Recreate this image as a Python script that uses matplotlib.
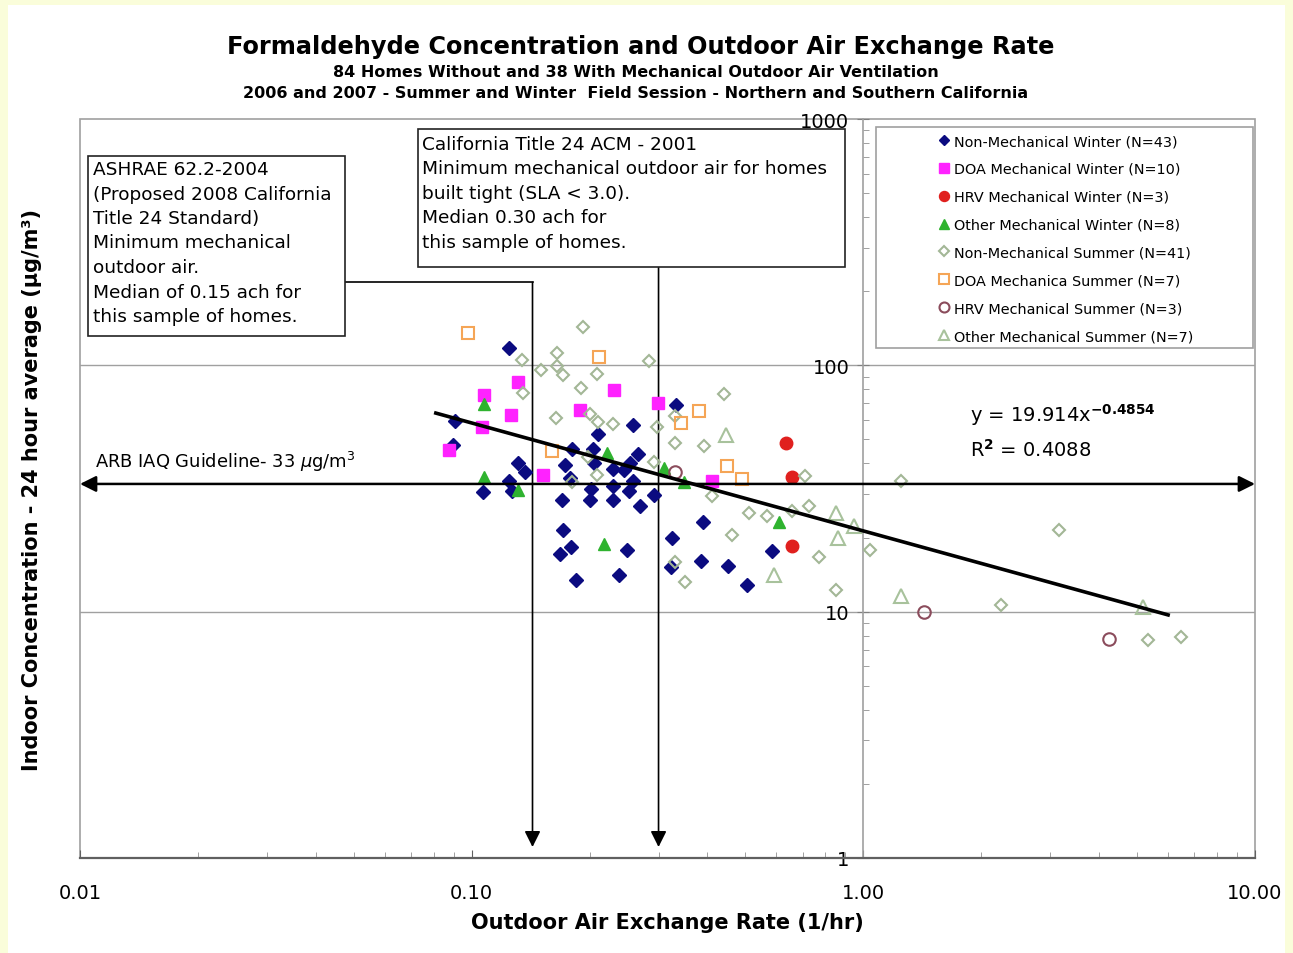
import matplotlib
matplotlib.use("Agg")
import matplotlib.pyplot as plt
from matplotlib.patches import Rectangle

# --- data (x = air exchange rate 1/hr, y = ug/m3) ---
nonmech_winter_x = [0.1245, 0.0907, 0.0896, 0.1313, 0.2101, 0.1803, 0.2040, 0.1730, 0.2052,
                    0.1368, 0.1245, 0.1782, 0.1069, 0.1268, 0.2016, 0.1700, 0.2004, 0.1710,
                    0.1793, 0.1680, 0.1846, 0.3323, 0.2581, 0.2658, 0.2536, 0.2295, 0.2448,
                    0.2295, 0.2581, 0.2521, 0.2920, 0.2295, 0.2690, 0.3895, 0.3246, 0.2492,
                    0.3849, 0.3227, 0.4511, 0.2377, 0.5044, 0.5844]
nonmech_winter_y = [117.2, 59.3, 47.4, 40.0, 52.5, 45.6, 45.6, 39.3, 40.0,
                    36.8, 33.8, 34.8, 30.5, 30.8, 31.4, 28.3, 28.3, 21.4,
                    18.3, 17.1, 13.5, 68.8, 57.1, 43.5, 40.0, 37.9, 37.5,
                    32.3, 33.8, 30.8, 29.7, 28.3, 26.8, 23.1, 19.9, 17.8,
                    16.0, 15.2, 15.3, 14.1, 12.8, 17.6]

doa_winter_x = [0.1313, 0.1075, 0.1260, 0.1062, 0.0875, 0.1890, 0.2309, 0.2989, 0.1521, 0.4107]
doa_winter_y = [85.3, 75.6, 62.7, 56.0, 45.2, 65.7, 79.2, 70.1, 35.8, 33.8]

hrv_winter_x = [0.6346, 0.6573, 0.6573]
hrv_winter_y = [48.3, 35.1, 18.4]

other_winter_x = [0.1075, 0.1075, 0.1313, 0.2215, 0.2176, 0.3097, 0.3484, 0.6089]
other_winter_y = [69.5, 35.1, 31.1, 44.0, 18.8, 38.2, 33.5, 23.1]

nonmech_summer_x = [0.1923, 0.1344, 0.1651, 0.1503, 0.1651, 0.1710, 0.2089, 0.1901, 0.1352,
                    0.1641, 0.2004, 0.2101, 0.1981, 0.2089, 0.1803, 0.2836, 0.4406, 0.3304,
                    0.2295, 0.2972, 0.3304, 0.3918, 0.2920, 0.4107, 0.5104, 0.5675, 0.4619,
                    0.3304, 0.3504, 0.7095, 1.247, 0.6573, 0.7263, 1.039, 0.7701, 0.8511,
                    3.157, 2.245, 5.328, 6.470]
nonmech_summer_y = [142.6, 104.8, 111.9, 95.4, 99.1, 91.1, 91.9, 80.7, 77.0,
                    61.0, 63.3, 58.7, 42.4, 35.8, 33.5, 103.8, 76.3, 62.1,
                    57.6, 56.0, 48.3, 46.9, 40.4, 29.4, 25.1, 24.4, 20.4,
                    15.9, 13.2, 35.4, 33.8, 25.6, 26.8, 17.8, 16.6, 12.2,
                    21.4, 10.6, 7.66, 7.88]

doa_summer_x = [0.0979, 0.2113, 0.1603, 0.3804, 0.3422, 0.4485, 0.4898]
doa_summer_y = [134.8, 107.8, 44.8, 65.1, 58.2, 38.9, 34.5]

hrv_summer_x = [0.3304, 1.428, 4.236]
hrv_summer_y = [36.8, 9.95, 7.73]

other_summer_x = [0.4458, 0.8511, 0.9462, 0.8612, 0.5913, 1.247, 5.174]
other_summer_y = [52.0, 25.1, 22.2, 19.9, 14.1, 11.6, 10.4]

trend_x = [0.081, 6.0]
trend_y = [64.0, 9.7]

arb_guideline = 33
ashrae_ach = 0.143
title24_ach = 0.30

x_ticks = [0.01, 0.1, 1, 10]
x_ticklabels = ["0.01", "0.10", "1.00", "10.00"]
y_ticks = [1, 10, 100, 1000]
y_ticklabels = ["1", "10", "100", "1000"]

ashrae_lines = ["ASHRAE 62.2-2004", "(Proposed 2008 California", "Title 24 Standard)",
                "Minimum mechanical", "outdoor air.", "Median of 0.15 ach for",
                "this sample of homes."]
title24_lines = ["California Title 24 ACM - 2001", "Minimum mechanical outdoor air for homes",
                 "built tight (SLA < 3.0).", "Median 0.30 ach for", "this sample of homes."]

W, H = 1293, 954


def fx(px):
    return px / W


def fy(py):
    return 1 - py / H


fig = plt.figure(figsize=(W / 100, H / 100), dpi=100, facecolor="#FAFDDA")
fig.patches.append(Rectangle((fx(8), 0), fx(1285) - fx(8), fy(6), transform=fig.transFigure,
                             facecolor="white", edgecolor="none", zorder=-1))

ax = fig.add_axes([fx(80), fy(859), fx(1255) - fx(80), fy(120) - fy(859)])
ax.set_xscale("log")
ax.set_yscale("log")
ax.set_xlim(0.01, 10)
ax.set_ylim(1, 1000)

for v in (10, 100):
    ax.axhline(v, color="#a0a0a0", lw=1.0, zorder=1)
ax.add_patch(Rectangle((0, 0), 1, 1, transform=ax.transAxes, fill=False,
                       edgecolor="#a0a0a0", lw=1.2, clip_on=False, zorder=1))

mk = dict(linestyle="none", zorder=3)
ax.plot(nonmech_winter_x, nonmech_winter_y, marker="D", ms=7, color="#0b0b80",
        label="Non-Mechanical Winter (N=43)", **mk)
ax.plot(doa_winter_x, doa_winter_y, marker="s", ms=9, color="#ff22ff",
        label="DOA Mechanical Winter (N=10)", **mk)
ax.plot(hrv_winter_x, hrv_winter_y, marker="o", ms=9, color="#e0201e",
        label="HRV Mechanical Winter (N=3)", **mk)
ax.plot(other_winter_x, other_winter_y, marker="^", ms=9, color="#2fb32f",
        label="Other Mechanical Winter (N=8)", **mk)
ax.plot(nonmech_summer_x, nonmech_summer_y, marker="D", ms=6.5, mfc="none", mew=1.5,
        color="#a3b796", label="Non-Mechanical Summer (N=41)", **mk)
ax.plot(doa_summer_x, doa_summer_y, marker="s", ms=9, mfc="none", mew=1.5,
        color="#f5a556", label="DOA Mechanica Summer (N=7)", **mk)
ax.plot(hrv_summer_x, hrv_summer_y, marker="o", ms=9, mfc="none", mew=1.5,
        color="#8b4c5c", label="HRV Mechanical Summer (N=3)", **mk)
ax.plot(other_summer_x, other_summer_y, marker="^", ms=9.5, mfc="none", mew=1.5,
        color="#a8c29c", label="Other Mechanical Summer (N=7)", **mk)

ax.plot(trend_x, trend_y, color="black", lw=2.6, zorder=4)

# ARB guideline double arrow
ax.annotate("", xy=(0.01, arb_guideline), xytext=(10, arb_guideline),
            arrowprops=dict(arrowstyle="<|-|>", color="black", lw=1.8,
                            mutation_scale=24, shrinkA=0, shrinkB=0),
            annotation_clip=False, zorder=4)

# vertical arrows for the two ventilation standards
arrow = dict(arrowstyle="-|>", color="black", lw=1.2, mutation_scale=24, shrinkA=0, shrinkB=0)
ax.annotate("", xy=(ashrae_ach, 1.108), xytext=(ashrae_ach, 217), arrowprops=arrow, zorder=2)
ax.plot([0.0475, ashrae_ach], [217, 217], color="black", lw=1.2, zorder=2, clip_on=False)
ax.annotate("", xy=(title24_ach, 1.108), xytext=(title24_ach, 250), arrowprops=arrow, zorder=2)

for side in ("top", "right"):
    ax.spines[side].set_visible(False)
ax.spines["left"].set_position(("data", 1.0))
ax.spines["left"].set_color("#a0a0a0")
ax.spines["left"].set_linewidth(1.2)
ax.spines["bottom"].set_color("#606060")
ax.spines["bottom"].set_linewidth(1.6)

ax.set_xticks(x_ticks)
ax.set_xticklabels(x_ticklabels)
ax.set_yticks(y_ticks)
ax.set_yticklabels(y_ticklabels)
ax.xaxis.set_minor_formatter(plt.NullFormatter())
ax.yaxis.set_minor_formatter(plt.NullFormatter())
ax.tick_params(axis="x", which="major", direction="in", length=6, pad=18, labelsize=14,
               color="#606060")
ax.tick_params(axis="x", which="minor", direction="in", length=4, color="#909090")
ax.tick_params(axis="y", which="major", direction="inout", length=8, pad=6, labelsize=14,
               color="#808080")
ax.tick_params(axis="y", which="minor", direction="in", length=4, color="#909090")

# text boxes
for (l, t, r, b) in [(88, 157, 345, 337), (418, 130, 845, 268)]:
    ax.add_patch(Rectangle((fx(l), fy(b)), fx(r) - fx(l), fy(t) - fy(b),
                           transform=fig.transFigure, facecolor="white",
                           edgecolor="#222222", lw=1.2, clip_on=False, zorder=5))
for i, line in enumerate(ashrae_lines):
    fig.text(fx(93), fy(170 + i * 24.5), line, fontsize=13.3, va="center", ha="left", zorder=6)
for i, line in enumerate(title24_lines):
    fig.text(fx(422), fy(145 + i * 24.5), line, fontsize=13.3, va="center", ha="left", zorder=6)

fig.text(fx(95), fy(462), r"ARB IAQ Guideline- 33 $\mu$g/m$^3$", fontsize=12.9,
         va="center", ha="left")
fig.text(fx(970), fy(415), r"y = 19.914x$^{\mathbf{-0.4854}}$", fontsize=14,
         va="center", ha="left")
fig.text(fx(970), fy(450), r"R$^{\mathbf{2}}$ = 0.4088", fontsize=14, va="center", ha="left")

# legend
ax.add_patch(Rectangle((fx(876), fy(349)), fx(1253) - fx(876), fy(128) - fy(349),
                       transform=fig.transFigure, facecolor="white", edgecolor="#a0a0a0",
                       lw=1.2, clip_on=False, zorder=5))
ax.legend(loc="upper left", bbox_to_anchor=(fx(937), fy(135)), bbox_transform=fig.transFigure,
          frameon=False, fontsize=10.4, handlelength=0.9, handletextpad=0.25,
          labelspacing=0.96, markerscale=0.8, borderaxespad=0, borderpad=0)

fig.text(fx(641), fy(47), "Formaldehyde Concentration and Outdoor Air Exchange Rate",
         fontsize=17.3, weight="bold", ha="center", va="center")
fig.text(fx(636), fy(73), "84 Homes Without and 38 With Mechanical Outdoor Air Ventilation",
         fontsize=11.5, weight="bold", ha="center", va="center")
fig.text(fx(636), fy(94),
         "2006 and 2007 - Summer and Winter  Field Session - Northern and Southern California",
         fontsize=11.5, weight="bold", ha="center", va="center")
fig.text(fx(667), fy(923), "Outdoor Air Exchange Rate (1/hr)", fontsize=15, weight="bold",
         ha="center", va="center")
fig.text(fx(32), fy(490), "Indoor Concentration - 24 hour average (µg/m³)", fontsize=15,
         weight="bold", rotation=90, ha="center", va="center")

fig.savefig("out.png", dpi=100, facecolor=fig.get_facecolor())
